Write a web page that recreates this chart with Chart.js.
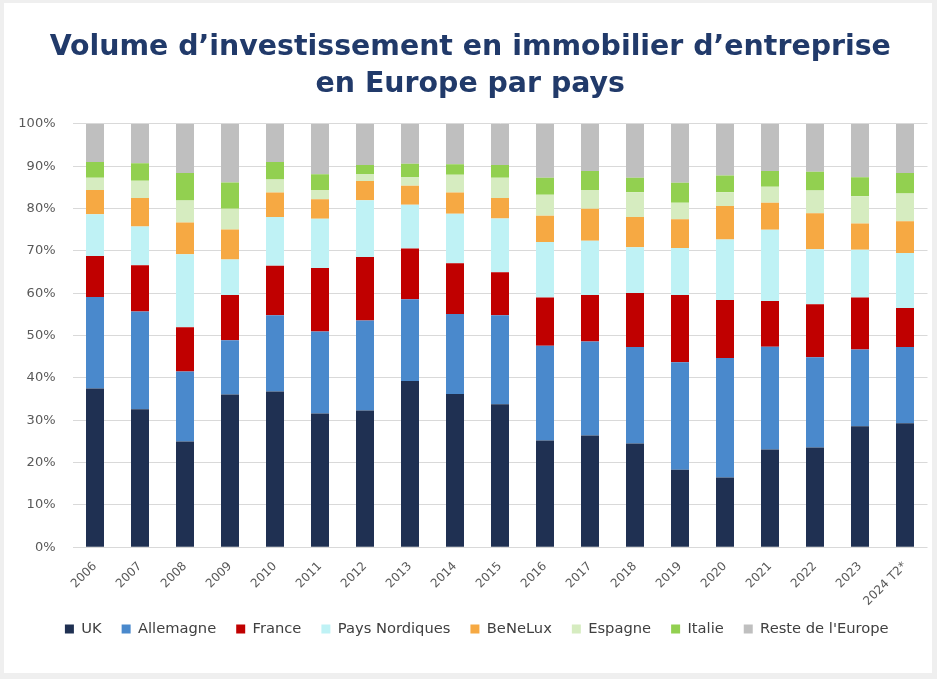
<!DOCTYPE html>
<html>
<head>
<meta charset="utf-8">
<script src="https://cdn.jsdelivr.net/npm/chart.js@4"></script>
<style>
  html, body { margin: 0; padding: 0; }
  body { width: 937px; height: 679px; background: #efefef; position: relative; overflow: hidden; }
  #panel { position: absolute; left: 4px; top: 3px; width: 928px; height: 670px; background: #ffffff; }
  #c { position: absolute; left: 0; top: 0; }
</style>
</head>
<body>
<div id="panel"></div>
<canvas id="c" width="937" height="679"></canvas>
<script>
const titleLines = ["Volume d\u2019investissement en immobilier d\u2019entreprise", "en Europe par pays"];
const years = ["2006","2007","2008","2009","2010","2011","2012","2013","2014","2015","2016","2017","2018","2019","2020","2021","2022","2023","2024 T2*"];
const yTicks = [0,10,20,30,40,50,60,70,80,90,100];

const uk        = [37.5,32.6,25.0,36.1,36.8,31.6,32.3,39.3,36.2,33.8,25.2,26.4,24.5,18.3,16.5,23.1,23.6,28.6,29.3];
const allemagne = [21.6,23.1,16.5,12.8,18.0,19.4,21.3,19.3,18.9,21.0,22.4,22.2,22.8,25.4,28.2,24.3,21.3,18.1,18.0];
const france    = [9.7,10.9,10.5,10.7,11.7,15.0,15.0,12.0,12.0,10.2,11.4,11.0,12.8,15.9,13.7,10.8,12.5,12.3,9.2];
const nordiques = [9.9,9.2,17.2,8.4,11.5,11.6,13.4,10.3,11.7,12.7,13.1,12.8,10.8,11.1,14.3,16.8,13.0,11.3,13.0];
const benelux   = [5.7,6.7,7.5,7.1,5.8,4.6,4.5,4.5,5.0,4.8,6.2,7.6,7.1,6.8,7.9,6.4,8.5,6.2,7.5];
const espagne   = [2.9,4.1,5.2,4.9,3.1,2.2,1.7,2.1,4.2,4.8,5.0,4.4,5.9,3.9,3.3,3.8,5.4,6.4,6.6];
const italie    = [3.7,4.1,6.5,6.2,4.1,3.7,2.1,3.1,2.5,3.0,4.0,4.5,3.4,4.7,3.9,3.7,4.4,4.5,4.8];
const reste     = [9.0,9.3,11.6,13.8,9.0,11.9,9.7,9.4,9.5,9.7,12.7,11.1,12.7,13.9,12.2,11.1,11.3,12.6,11.6];

const seriesNames = ["UK","Allemagne","France","Pays Nordiques","BeNeLux","Espagne","Italie","Reste de l'Europe"];
const seriesData = [uk, allemagne, france, nordiques, benelux, espagne, italie, reste];
const seriesColors = ["#1F3052","#4A89CC","#C00000","#BFF2F5","#F6A943","#D6ECC0","#92D050","#BFBFBF"];

const datasets = seriesNames.map((name, i) => ({
  label: name,
  data: seriesData[i],
  backgroundColor: seriesColors[i],
  borderWidth: 0,
  barPercentage: 0.4,
  categoryPercentage: 1.0
}));

const shiftPlugin = {
  id: 'shiftBlocks',
  afterLayout(chart) {
    const l = chart.legend;
    if (l) { l.left += 13; l.right += 13; l.top -= 4.6; l.bottom -= 4.6; }
    const t = chart.titleBlock;
    if (t) { t.left += 6.5; t.right += 6.5; }
  }
};

new Chart(document.getElementById('c'), {
  type: 'bar',
  data: { labels: years, datasets: datasets },
  plugins: [shiftPlugin],
  options: {
    responsive: false,
    animation: false,
    layout: { padding: { left: 0, right: 9.5, top: 0, bottom: 28 } },
    plugins: {
      title: {
        display: true,
        text: titleLines,
        color: '#213A6A',
        font: { family: "'DejaVu Sans', sans-serif", size: 28.4, weight: 'bold', lineHeight: 1.32 },
        padding: { top: 28.5, bottom: 20.5 }
      },
      legend: {
        position: 'bottom',
        labels: {
          boxWidth: 9,
          boxHeight: 9,
          padding: 20,
          color: '#404040',
          font: { family: "'DejaVu Sans', sans-serif", size: 14.7 }
        }
      },
      tooltip: { enabled: false }
    },
    scales: {
      x: {
        stacked: true,
        grid: { display: false, drawTicks: false },
        border: { display: false },
        ticks: {
          color: '#595959',
          font: { family: "'DejaVu Sans', sans-serif", size: 12 },
          minRotation: 45,
          maxRotation: 45,
          autoSkip: false,
          padding: 12
        },
        afterFit: (scale) => { scale.height = 59; }
      },
      y: {
        stacked: true,
        min: 0,
        max: 100,
        afterBuildTicks: (scale) => { scale.ticks = yTicks.map(v => ({ value: v })); },
        grid: { color: '#D9D9D9', lineWidth: 1, drawTicks: false },
        border: { display: false },
        ticks: {
          color: '#595959',
          font: { family: "'DejaVu Sans', sans-serif", size: 13 },
          padding: 17,
          callback: (v) => v + '%'
        },
        afterFit: (scale) => { scale.width = 72.5; }
      }
    }
  }
});
</script>
</body>
</html>
